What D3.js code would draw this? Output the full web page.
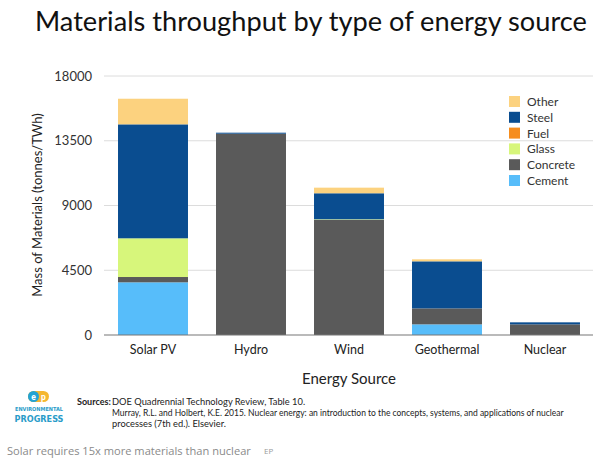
<!DOCTYPE html>
<html><head><meta charset="utf-8">
<script src="https://cdn.jsdelivr.net/npm/d3@7"></script>
<style>
html,body{margin:0;padding:0;background:#fff;}
svg{display:block;}
</style></head>
<body>
<svg id="chart" width="600" height="464"></svg>
<script>
// ---- data ----
const categories = ["Solar PV", "Hydro", "Wind", "Geothermal", "Nuclear"];
const materials = ["Cement", "Concrete", "Glass", "Fuel", "Steel", "Other"]; // bottom to top
const cement   = [3660,    0,    0,  740,   0];
const concrete = [ 370, 13990, 8000, 1110, 740];
const glass    = [2690,    0,   40,    0,   0];
const fuel     = [   0,    0,    0,    0,   0];
const steel    = [7920,   70, 1810, 3270, 140];
const other    = [1780,    0,  390,  140,   0];
const yTicks = [0, 4500, 9000, 13500, 18000];
const colors = {Cement:"#57bdfa", Concrete:"#5a5a5a", Glass:"#d7f67b", Fuel:"#f68d1e", Steel:"#0a4d90", Other:"#fcd27f"};

const seriesVals = {Cement:cement, Concrete:concrete, Glass:glass, Fuel:fuel, Steel:steel, Other:other};
const table = categories.map((c,i)=>{const o={cat:c}; materials.forEach(m=>o[m]=seriesVals[m][i]); return o;});

const svg = d3.select("#chart");
const font = "Lato, 'Open Sans', sans-serif";

// scale a text's font-size so that its natural width equals the target width
function fitWidth(sel, target) {
  const fs = parseFloat(sel.attr("font-size"));
  const w = sel.node().getComputedTextLength();
  if (w > 0) sel.attr("font-size", (fs * target / w).toFixed(2));
  return sel;
}

const x = d3.scaleBand().domain(categories).range([104, 594]).paddingInner(0.286).paddingOuter(0.143);
const y = d3.scaleLinear().domain([0, 18000]).range([335, 76]);

// title
const title = svg.append("text").attr("x", 35).attr("y", 31).attr("font-family", font).attr("font-size", 30)
  .attr("fill", "#111").text("Materials throughput by type of energy source");
fitWidth(title, 552);

// gridlines
svg.append("g").selectAll("line").data(yTicks.filter(t=>t>0)).join("line")
  .attr("x1", 104).attr("x2", 593).attr("y1", d=>y(d)).attr("y2", d=>y(d))
  .attr("stroke", "#dcdcdc").attr("stroke-width", 1);

// y axis labels
const yAxis = svg.append("g").attr("transform", "translate(104,0)")
  .call(d3.axisLeft(y).tickValues(yTicks).tickSize(0).tickPadding(12).tickFormat(d3.format("d")));
yAxis.select(".domain").remove();
yAxis.selectAll("text").attr("font-family", font).attr("font-size", 13).attr("fill", "#333");

// bars
const stack = d3.stack().keys(materials)(table);
svg.append("g").selectAll("g").data(stack).join("g").attr("fill", d=>colors[d.key])
  .selectAll("rect").data(d=>d).join("rect")
  .attr("x", d=>x(d.data.cat)).attr("width", x.bandwidth())
  .attr("y", d=>y(d[1])).attr("height", d=>Math.max(0, y(d[0]) - y(d[1])));

// x axis
const xAxis = svg.append("g").attr("transform", "translate(0,335)")
  .call(d3.axisBottom(x).tickSize(0).tickPadding(10));
xAxis.select(".domain").attr("d", "M104,0H593").attr("stroke", "#777").attr("stroke-width", 1.2);
xAxis.selectAll("text").attr("font-family", font).attr("font-size", 12.5).attr("fill", "#222");

// axis titles
svg.append("text").attr("transform", "translate(42,205) rotate(-90)").attr("text-anchor", "middle")
  .attr("font-family", font).attr("font-size", 13).attr("fill", "#222")
  .text("Mass of Materials (tonnes/TWh)");
svg.append("text").attr("x", 349).attr("y", 384).attr("text-anchor", "middle")
  .attr("font-family", font).attr("font-size", 15).attr("fill", "#222").text("Energy Source");

// legend
const legendOrder = materials.slice().reverse();
const lg = svg.append("g").selectAll("g").data(legendOrder).join("g")
  .attr("transform", (d,i)=>`translate(509,${96 + i*15.8})`);
lg.append("rect").attr("width", 11).attr("height", 11).attr("fill", d=>colors[d]);
lg.append("text").attr("x", 18).attr("y", 10).attr("font-family", font).attr("font-size", 12)
  .attr("fill", "#333").text(d=>d);

// logo
const logo = svg.append("g");
logo.append("rect").attr("x", 28).attr("y", 391).attr("width", 21).attr("height", 11).attr("rx", 5.5).attr("fill", "#f5b731");
logo.append("circle").attr("cx", 33.5).attr("cy", 396.5).attr("r", 5.5).attr("fill", "#22a3d4");
logo.append("text").attr("x", 33.5).attr("y", 399.5).attr("text-anchor", "middle").attr("font-family", "Roboto, sans-serif")
  .attr("font-weight", "bold").attr("font-size", 8.5).attr("fill", "#fff").text("e");
logo.append("text").attr("x", 43.5).attr("y", 399.5).attr("text-anchor", "middle").attr("font-family", "Roboto, sans-serif")
  .attr("font-weight", "bold").attr("font-size", 8.5).attr("fill", "#fff").text("p");
const env = logo.append("text").attr("x", 39).attr("y", 411).attr("text-anchor", "middle").attr("font-family", "'DejaVu Sans Condensed', 'Liberation Sans Narrow', sans-serif")
  .attr("font-weight", "bold").attr("font-size", 6).attr("fill", "#2a9cc9").text("ENVIRONMENTAL");
fitWidth(env, 48);
const prog = logo.append("text").attr("x", 39).attr("y", 422).attr("text-anchor", "middle").attr("font-family", "'DejaVu Sans Condensed', 'Liberation Sans Narrow', sans-serif")
  .attr("font-weight", "bold").attr("font-size", 12).attr("fill", "#2a9cc9").text("PROGRESS");
fitWidth(prog, 49);

// sources
const src = svg.append("g").attr("font-family", font).attr("fill", "#222");
src.append("text").attr("x", 77).attr("y", 405).attr("font-size", 9).attr("font-weight", "bold").text("Sources:");
src.append("text").attr("x", 112).attr("y", 405).attr("font-size", 9.3).text("DOE Quadrennial Technology Review, Table 10.");
const murray = src.append("text").attr("x", 112).attr("y", 416).attr("font-size", 9.3)
  .text("Murray, R.L. and Holbert, K.E. 2015. Nuclear energy: an introduction to the concepts, systems, and applications of nuclear");
fitWidth(murray, 452);
src.append("text").attr("x", 112).attr("y", 427).attr("font-size", 9.3).text("processes (7th ed.). Elsevier.");

// caption
const cap = svg.append("text").attr("x", 7).attr("y", 455).attr("font-family", "'Open Sans', 'Noto Sans', sans-serif")
  .attr("font-size", 12.5).attr("fill", "#8a8a8a").text("Solar requires 15x more materials than nuclear");
fitWidth(cap, 244);
svg.append("text").attr("x", 264).attr("y", 454).attr("font-family", "'Open Sans', sans-serif")
  .attr("font-size", 8).attr("fill", "#9a9a9a").text("EP");
</script>
</body></html>
